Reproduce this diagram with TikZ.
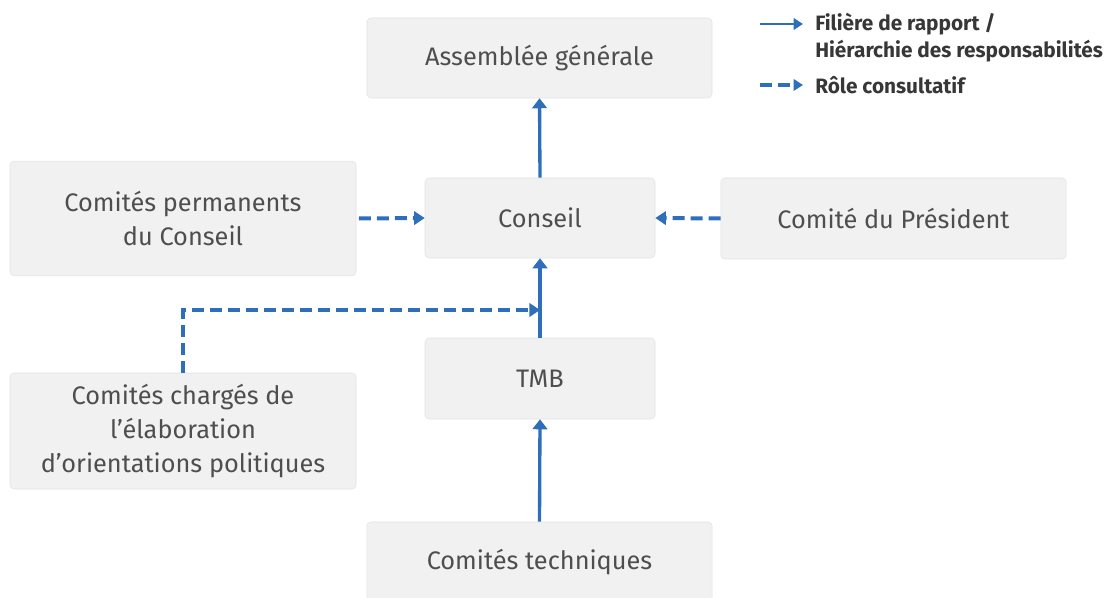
\documentclass[tikz,border=0pt]{standalone}
\usepackage{fontspec}
\setmainfont{Fira Sans}
\usetikzlibrary{arrows.meta, positioning}
\definecolor{linkblue}{RGB}{46,110,186}
\definecolor{boxfill}{RGB}{241,241,241}
\definecolor{boxline}{RGB}{226,226,226}
\definecolor{boxtext}{RGB}{78,78,78}
\definecolor{keytext}{RGB}{55,55,55}
\tikzset{
  unit/.style={rectangle, rounded corners=3pt, draw=boxline, fill=boxfill,
               text=boxtext, align=center, inner sep=0pt,
               font=\fontsize{19}{25.5}\selectfont},
  report/.style={-{Triangle[length=7.5pt, width=11pt]}, line width=2.5pt, color=linkblue},
  advise/.style={-{Triangle[length=8pt, width=10pt]}, line width=3pt, color=linkblue,
                 dash pattern=on 9pt off 4.5pt},
  keyline/.style={-{Triangle[length=7pt, width=8.5pt]}, line width=1.8pt, color=linkblue},
  keylabel/.style={anchor=west, inner sep=0pt, text=keytext, align=left,
                   font=\bfseries\fontsize{15.6}{20.3}\selectfont},
}

\begin{document}
\begin{tikzpicture}[x=0.75pt, y=-0.75pt]
    \useasboundingbox (0,0) rectangle (1119,598);

    \node[unit, minimum width=258.75pt, minimum height=60pt] (ag) at (539.5,58) {Assemblée générale};
    \node[unit, minimum width=172.5pt, minimum height=60pt] (conseil) at (540,218) {Conseil};
    \node[unit, minimum width=259.5pt, minimum height=86pt] (perm) at (183,218.5) {Comités permanents\\du Conseil};
    \node[unit, minimum width=259pt, minimum height=60.75pt] (pres) at (893.5,218.5) {Comité du Président};
    \node[unit, minimum width=172.5pt, minimum height=60.75pt] (tmb) at (540,378.5) {TMB};
    \node[unit, minimum width=259.5pt, minimum height=87pt] (chg) at (183,431) {Comités chargés de\\l’élaboration\\d’orientations politiques};
    \node[unit, minimum width=259pt, minimum height=60pt] (tech) at (539.5,562) {Comités techniques};

    \draw[report] (conseil.north) -- (ag.south);
    \draw[report] (tmb.north) -- (conseil.south);
    \draw[report] (tech.north) -- (tmb.south);

    \draw[advise, shorten <=2pt] (perm.east) -- (conseil.west);
    \draw[advise] (pres.west) -- (conseil.east);
    \coordinate (join) at (540,310);
    \draw[advise] (chg.north) |- (join);

    \coordinate (k1a) at (760,24);
    \coordinate (k1b) at (803,24);
    \coordinate (k2a) at (760,85);
    \coordinate (k2b) at (803,85);
    \draw[keyline] (k1a) -- (k1b);
    \draw[advise, line width=2.6pt, -{Triangle[length=7pt, width=8.5pt]}] (k2a) -- (k2b);
    \node[keylabel] (k1) at (815,37.5) {Filière de rapport /\\Hiérarchie des responsabilités};
    \node[keylabel] (k2) at (815,85) {Rôle consultatif};
\end{tikzpicture}
\end{document}
